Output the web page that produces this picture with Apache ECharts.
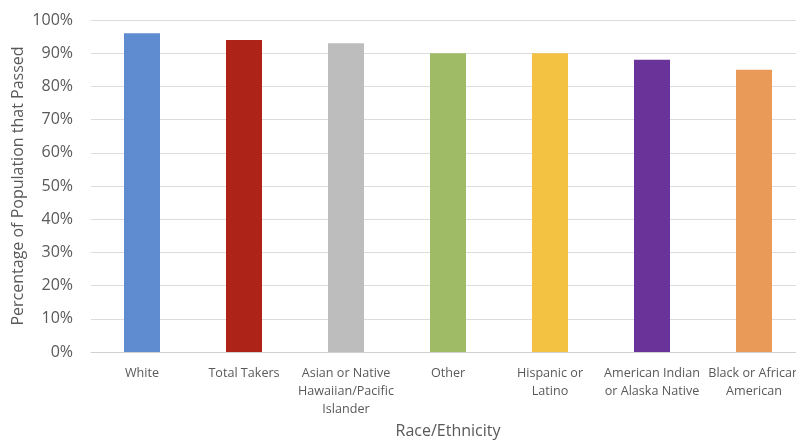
<!DOCTYPE html>
<html>
<head>
<meta charset="utf-8">
<script src="https://cdn.jsdelivr.net/npm/echarts@6/dist/echarts.min.js"></script>
<style>
  html, body { margin: 0; padding: 0; background: #fff; }
  #chart { width: 796px; height: 440px; }
</style>
</head>
<body>
<div id="chart"></div>
<script>
// Pass rate by race/ethnicity
const categories = [
  'White',
  'Total Takers',
  'Asian or Native\nHawaiian/Pacific\nIslander',
  'Other',
  'Hispanic or\nLatino',
  'American Indian\nor Alaska Native',
  'Black or African\nAmerican'
];
const passRates = [96, 94, 93, 90, 90, 88, 85];
const barColors = ['#5f8bd0', '#ae2318', '#bdbdbd', '#9fbb66', '#f4c242', '#6a3399', '#e99a58'];
const yTicks = { min: 0, max: 100, interval: 10 };

const chart = echarts.init(document.getElementById('chart'));
const font = 'Open Sans, sans-serif';

chart.setOption({
  animation: false,
  grid: {
    left: 91, top: 20, width: 714, bottom: 88,
    containLabel: false, outerBoundsMode: 'none'
  },
  xAxis: {
    type: 'category',
    data: categories,
    name: 'Race/Ethnicity',
    nameLocation: 'middle',
    nameMoveOverlap: false,
    nameGap: 71,
    nameTextStyle: { color: '#595959', fontSize: 16, fontFamily: font },
    axisLine: { lineStyle: { color: '#d0d0d0', width: 1 } },
    axisTick: { show: false },
    axisLabel: {
      color: '#595959', fontSize: 12.6, fontFamily: font,
      lineHeight: 18, margin: 12, interval: 0
    }
  },
  yAxis: {
    type: 'value',
    min: yTicks.min, max: yTicks.max, interval: yTicks.interval,
    name: 'Percentage of Population that Passed',
    nameLocation: 'middle',
    nameMoveOverlap: false,
    nameGap: 65,
    nameTextStyle: { color: '#595959', fontSize: 16, fontFamily: font },
    axisLine: { show: false },
    axisTick: { show: false },
    axisLabel: {
      color: '#595959', fontSize: 16, fontFamily: font, margin: 18,
      formatter: v => v + '%'
    },
    splitLine: { lineStyle: { color: '#dcdcdc', width: 1 } }
  },
  series: [{
    type: 'bar',
    data: passRates.map((v, i) => ({ value: v, itemStyle: { color: barColors[i] } })),
    barWidth: 36
  }]
});
</script>
</body>
</html>
